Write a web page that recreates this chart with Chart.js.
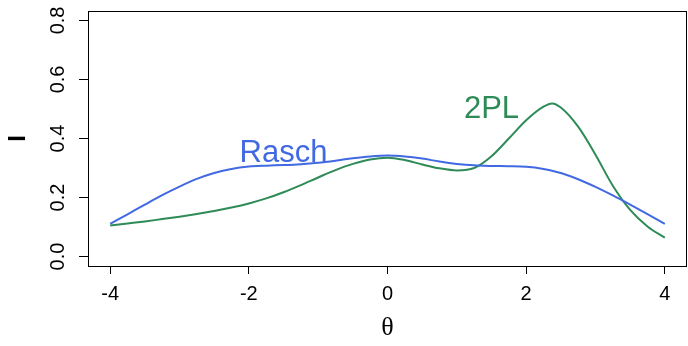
<!DOCTYPE html>
<html>
<head>
<meta charset="utf-8">
<script src="https://cdn.jsdelivr.net/npm/chart.js@4"></script>
<style>
  html, body { margin: 0; padding: 0; background: #fff; }
  #wrap { width: 688px; height: 346px; }
</style>
</head>
<body>
<div id="wrap"><canvas id="infoGraph"></canvas></div>
<script>
// test information curves
var theta = [-4, -3.75, -3.5, -3.25, -3, -2.75, -2.5, -2.25, -2, -1.75, -1.5, -1.25, -1, -0.75, -0.5, -0.25,
             0, 0.25, 0.5, 0.75, 1, 1.25, 1.5, 1.75, 2, 2.25, 2.375, 2.5, 2.75, 3, 3.25, 3.5, 3.75, 4];
var raschInfo = [0.111, 0.143, 0.176, 0.208, 0.237, 0.263, 0.283, 0.297, 0.305, 0.308, 0.310, 0.313, 0.318, 0.325, 0.333, 0.339,
                 0.342, 0.339, 0.332, 0.322, 0.314, 0.309, 0.307, 0.306, 0.304, 0.297, 0.291, 0.283, 0.262, 0.236, 0.207, 0.176, 0.144, 0.111];
var twoPLInfo = [0.105, 0.112, 0.119, 0.127, 0.135, 0.144, 0.154, 0.166, 0.180, 0.197, 0.218, 0.242, 0.268, 0.293, 0.314, 0.329,
                 0.335, 0.327, 0.312, 0.299, 0.292, 0.300, 0.340, 0.400, 0.462, 0.508, 0.519, 0.505, 0.440, 0.345, 0.240, 0.158, 0.102, 0.064];
var xTicks = [-4, -2, 0, 2, 4];
var yTicks = [0.0, 0.2, 0.4, 0.6, 0.8];
var yTickLabels = ["0.0", "0.2", "0.4", "0.6", "0.8"];
var curveLabels = ["Rasch", "2PL"];
var labelPos = [[-1.5, 0.35], [1.5, 0.5]];

var blue = "#4169E1";
var green = "#2E8B57";
var font = "'Liberation Sans', Arial, sans-serif";

function pts(ys) {
    var out = [];
    for (var i = 0; i < theta.length; i++) out.push({x: theta[i], y: ys[i]});
    return out;
}

// box, tick labels, axis titles and curve labels
var extras = {
    id: 'extras',
    afterDraw: function(chart) {
        var c = chart.ctx, a = chart.chartArea;
        var xs = chart.scales.x, ys = chart.scales.y;
        c.save();
        c.strokeStyle = "#000";
        c.lineWidth = 1;
        c.strokeRect(Math.round(a.left) + 0.5, Math.round(a.top) + 0.5, Math.round(a.right - a.left) - 1, Math.round(a.bottom - a.top));

        c.fillStyle = "#000";
        c.font = "20px " + font;
        c.textAlign = "center";
        c.textBaseline = "middle";
        xTicks.forEach(function(v) {
            c.fillText(String(v), xs.getPixelForValue(v), 294);
        });
        yTicks.forEach(function(v, i) {
            c.save();
            c.translate(58, ys.getPixelForValue(v));
            c.rotate(-Math.PI / 2);
            c.fillText(yTickLabels[i], 0, 0);
            c.restore();
        });

        c.font = "26px 'Liberation Serif', 'Times New Roman', serif";
        c.fillText("\u03b8", xs.getPixelForValue(0), 328);
        c.save();
        c.translate(18, (a.top + a.bottom) / 2);
        c.rotate(-Math.PI / 2);
        c.font = "bold 24px " + font;
        c.fillText("I", 0, 0);
        c.restore();

        c.font = "31px " + font;
        c.fillStyle = blue;
        c.fillText(curveLabels[0], xs.getPixelForValue(labelPos[0][0]), ys.getPixelForValue(labelPos[0][1]));
        c.fillStyle = green;
        c.fillText(curveLabels[1], xs.getPixelForValue(labelPos[1][0]), ys.getPixelForValue(labelPos[1][1]));
        c.restore();
    }
};

var infoConfig = {
    type: 'line',
    data: {
        datasets: [{
            label: curveLabels[0],
            data: pts(raschInfo),
            borderColor: blue,
            borderWidth: 2,
            pointRadius: 0,
            cubicInterpolationMode: 'monotone',
            fill: false
        }, {
            label: curveLabels[1],
            data: pts(twoPLInfo),
            borderColor: green,
            borderWidth: 2,
            pointRadius: 0,
            cubicInterpolationMode: 'monotone',
            fill: false
        }]
    },
    options: {
        responsive: true,
        maintainAspectRatio: false,
        animation: false,
        layout: { padding: { top: 11, right: 1, left: 0, bottom: 0 } },
        plugins: {
            legend: { display: false },
            tooltip: { enabled: false }
        },
        scales: {
            x: {
                type: 'linear',
                min: -4.32,
                max: 4.32,
                afterBuildTicks: function(s) { s.ticks = xTicks.map(function(v) { return {value: v}; }); },
                afterFit: function(s) { s.height = 80; },
                grid: { display: true, drawOnChartArea: false, drawTicks: true, tickLength: 8, color: "#000", tickColor: "#000" },
                border: { display: false },
                ticks: { display: false }
            },
            y: {
                min: -0.032,
                max: 0.832,
                afterBuildTicks: function(s) { s.ticks = yTicks.map(function(v) { return {value: v}; }); },
                afterFit: function(s) { s.width = 88; },
                grid: { display: true, drawOnChartArea: false, drawTicks: true, tickLength: 9, color: "#000", tickColor: "#000" },
                border: { display: false },
                ticks: { display: false }
            }
        }
    },
    plugins: [extras]
};

var infoCtx = document.getElementById("infoGraph");
var infoChart = new Chart(infoCtx, infoConfig);
</script>
</body>
</html>
